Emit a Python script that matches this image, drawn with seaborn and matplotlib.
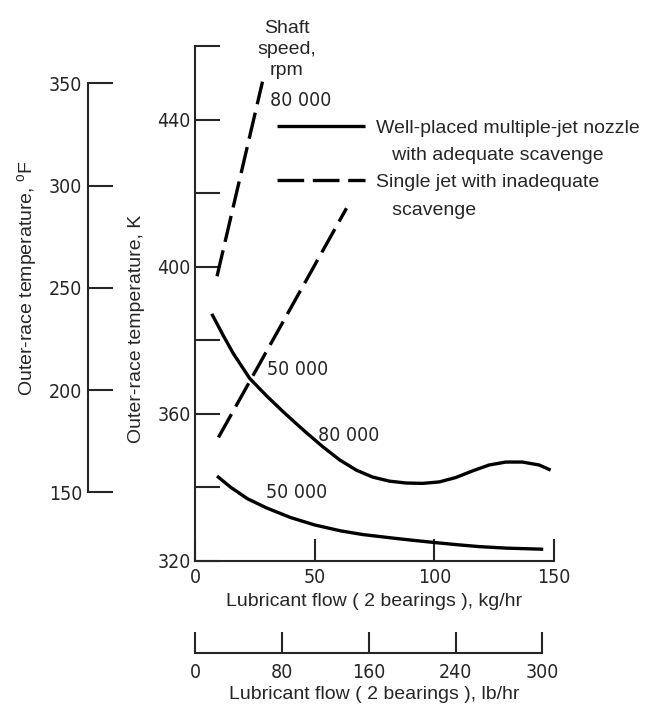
import os
import numpy as np
import pandas as pd
import matplotlib
matplotlib.use("Agg")
import matplotlib.pyplot as plt
import seaborn as sns
from matplotlib.lines import Line2D
from matplotlib.font_manager import FontProperties
from matplotlib import font_manager as fm

# ---------------- data ----------------
flow_multi_80k = [7.0, 11.8, 16.0, 22.9, 29.9, 36.8, 41.0, 46.5, 53.5, 60.4, 67.4, 74.3, 81.3, 88.2,
                  95.1, 102.1, 109.0, 116.0, 122.9, 129.9, 136.8, 143.8, 148.6]
temp_multi_80k = [387.2, 381.3, 376.4, 369.6, 364.9, 360.6, 358.1, 354.9, 351.0, 347.5, 344.7, 342.8,
                  341.7, 341.2, 341.1, 341.5, 342.7, 344.5, 346.1, 346.9, 346.9, 346.1, 344.7]
flow_multi_50k = [9.2, 15, 22, 30, 40, 50, 60.8, 70, 81.7, 90, 100.4, 110, 119, 130, 145.5]
temp_multi_50k = [343.1, 340.0, 336.9, 334.4, 331.8, 329.8, 328.2, 327.2, 326.3, 325.7, 325.0, 324.4,
                  323.9, 323.5, 323.2]
flow_single_80k = [9.2, 28.2]
temp_single_80k = [397.4, 450.3]
flow_single_50k = [9.8, 63.3]
temp_single_50k = [353.6, 415.9]

nozzles = ["multi", "single"]
legend_labels = ["Well-placed multiple-jet nozzle", "   with adequate scavenge",
                 "Single jet with inadequate", "   scavenge"]

k_ticks = [320, 340, 360, 380, 400, 420, 440, 460]
k_ticklabels = ["320", "", "360", "", "400", "", "440", ""]
f_ticks = [150, 200, 250, 300, 350]
kg_ticks = [0, 50, 100, 150]
lb_ticks = [0, 80, 160, 240, 320]
lb_ticklabels = ["0", "80", "160", "240", "300"]

# ---------------- frame ----------------
curves = [
    ("multi", "80 000", flow_multi_80k, temp_multi_80k),
    ("multi", "50 000", flow_multi_50k, temp_multi_50k),
    ("single", "80 000", flow_single_80k, temp_single_80k),
    ("single", "50 000", flow_single_50k, temp_single_50k),
]
rows = []
for noz, spd, fx, ty in curves:
    for a, b in zip(fx, ty):
        rows.append({"flow": a, "temp": b, "nozzle": noz, "curve": noz + spd})
df = pd.DataFrame(rows)

sns.set_style("ticks")
plt.rcParams["font.family"] = ["Liberation Sans", "DejaVu Sans"]
plt.rcParams["axes.linewidth"] = 1.5
plt.rcParams["mathtext.fontset"] = "custom"
plt.rcParams["mathtext.rm"] = "Liberation Sans"
plt.rcParams["lines.solid_capstyle"] = "butt"
plt.rcParams["lines.solid_joinstyle"] = "round"


def pick_narrow():
    found = []
    for f in fm.fontManager.ttflist:
        n = os.path.basename(f.fname).lower()
        if ("narrow" in n or "condensed" in n) and f.weight in (400, "normal", "regular") \
                and f.style == "normal" and "[" not in n and "bold" not in n and "light" not in n \
                and "oblique" not in n and "italic" not in n:
            found.append(f.fname)
    order = ["liberationsansnarrow", "arialn", "dejavusanscondensed", "robotocondensed",
             "opensans", "noto", "lato", "inter"]

    def rank(p):
        n = os.path.basename(p).lower().replace("-", "").replace("_", "")
        for i, key in enumerate(order):
            if key in n:
                return i
        return len(order)
    found.sort(key=rank)
    return found[0] if found else None


narrow_path = pick_narrow()
if narrow_path:
    num_font = FontProperties(fname=narrow_path, size=14)
else:
    num_font = FontProperties(family="Liberation Sans", size=13.5)
word_size = 14

W, H = 650, 707
fig = plt.figure(figsize=(6.5, 7.07), dpi=100)
ax = fig.add_axes([195 / W, 1 - 561 / H, 359 / W, 515 / H])

dash_pat = (8, 2.6)
sns.lineplot(data=df, x="flow", y="temp", style="nozzle", units="curve", estimator=None,
             sort=False, color="black", lw=2.4, style_order=nozzles,
             dashes={"multi": "", "single": dash_pat}, legend=False, ax=ax)

ax.set_xlim(0, 150)
ax.set_ylim(320, 460)
for s in ["top", "right"]:
    ax.spines[s].set_visible(False)
ax.spines["left"].set_bounds(320, 460)
ax.spines["bottom"].set_bounds(0, 150)

ax.set_yticks(k_ticks)
ax.set_yticklabels(k_ticklabels)
ax.set_xticks(kg_ticks)
ax.set_xticklabels([str(v) for v in kg_ticks])
ax.tick_params(axis="y", direction="in", length=18, width=1.5, pad=3)
ax.tick_params(axis="x", direction="in", length=16, width=1.5, pad=5)
for lab in ax.get_xticklabels() + ax.get_yticklabels():
    lab.set_fontproperties(num_font)

ax.set_xlabel("Lubricant flow ( 2 bearings ), kg/hr", fontsize=word_size, labelpad=4)
ax.set_ylabel("Outer-race temperature, K", fontsize=word_size)
ax.yaxis.set_label_coords(-(195 - 145) / 359, (561 - 329) / 515)


# ---- Fahrenheit axis ----
def k_to_f(k):
    return (k - 273.15) * 9 / 5 + 32


ax2 = ax.twinx()
ax2.set_ylim(k_to_f(320), k_to_f(460))
ax2.yaxis.tick_left()
ax2.yaxis.set_label_position("left")
for s in ["top", "right", "bottom"]:
    ax2.spines[s].set_visible(False)
ax2.spines["left"].set_position(("axes", -(195 - 88) / 359))
ax2.spines["left"].set_bounds(f_ticks[0], f_ticks[-1])
ax2.set_yticks(f_ticks)
ax2.set_yticklabels([str(v) for v in f_ticks])
ax2.tick_params(axis="y", direction="in", length=18, width=1.5, pad=4)
for lab in ax2.get_yticklabels():
    lab.set_fontproperties(num_font)
ax2.set_ylabel(r"Outer-race temperature, $^{\mathrm{o}}$F", fontsize=word_size)
ax2.yaxis.set_label_coords(-(195 - 40) / 359, (561 - 278) / 515)

# ---- lb/hr axis ----
ax3 = ax.twiny()
ax3.set_xlim(0, 150 * 2.20462)
ax3.xaxis.tick_bottom()
ax3.xaxis.set_label_position("bottom")
for s in ["top", "right", "left"]:
    ax3.spines[s].set_visible(False)
ax3.spines["bottom"].set_position(("axes", -(653 - 561) / 515))
ax3.spines["bottom"].set_bounds(lb_ticks[0], lb_ticks[-1])
ax3.set_xticks(lb_ticks)
ax3.set_xticklabels(lb_ticklabels)
ax3.tick_params(axis="x", direction="in", length=15, width=1.5, pad=7)
for lab in ax3.get_xticklabels():
    lab.set_fontproperties(num_font)
ax3.set_xlabel("Lubricant flow ( 2 bearings ), lb/hr", fontsize=word_size, labelpad=3)

# ---- annotations ----
ax.text(38.3, 459.0, "Shaft\nspeed,\nrpm", ha="center", va="center", fontsize=word_size,
        linespacing=1.3, clip_on=False)
ax.text(31.2, 445.1, "80 000", fontproperties=num_font, va="center", ha="left")
ax.text(30.0, 372.1, "50 000", fontproperties=num_font, va="center", ha="left")
ax.text(51.3, 354.2, "80 000", fontproperties=num_font, va="center", ha="left")
ax.text(29.6, 338.5, "50 000", fontproperties=num_font, va="center", ha="left")

# ---- legend ----
handles = [Line2D([], [], color="black", lw=2.4),
           Line2D([], [], color="none"),
           Line2D([], [], color="black", lw=2.4, dashes=dash_pat),
           Line2D([], [], color="none")]
ax.legend(handles, legend_labels, loc="upper left",
          bbox_to_anchor=(277 / W, 1 - 119 / H), bbox_transform=fig.transFigure,
          frameon=False, borderpad=0, borderaxespad=0, handlelength=4.5,
          handletextpad=0.6, labelspacing=0.5,
          prop=FontProperties(family="Liberation Sans", size=word_size))

fig.savefig("out.png", dpi=100)
